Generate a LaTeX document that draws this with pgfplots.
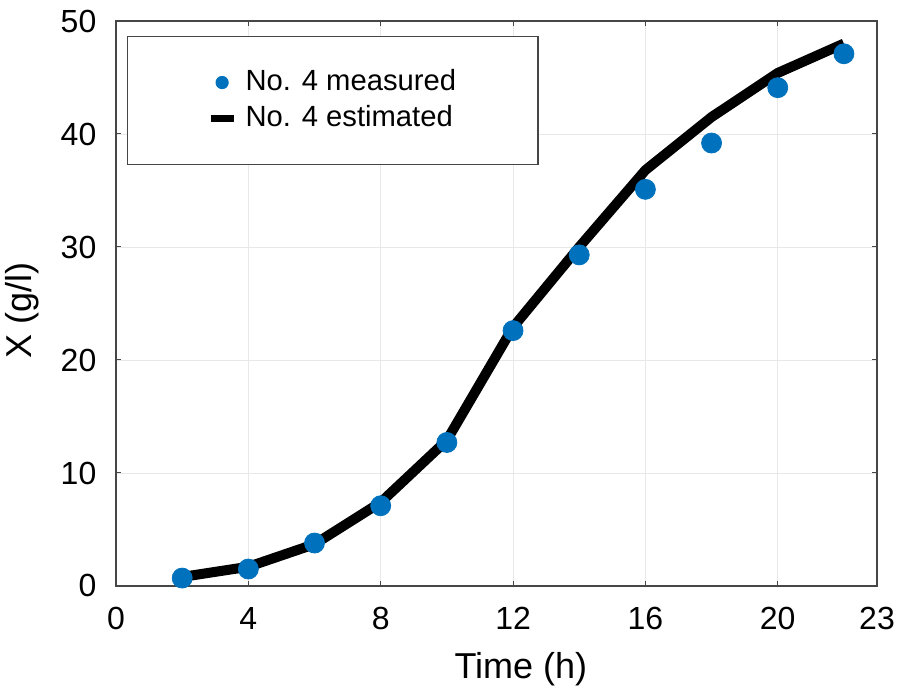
\documentclass[border=0pt]{standalone}
\usepackage{fontspec}
\setmainfont{Liberation Sans}
\usepackage{pgfplots}
\pgfplotsset{compat=1.18}
\definecolor{mblue}{RGB}{0,114,189}
\definecolor{axgray}{RGB}{70,70,70}

\begin{document}
\fontsize{16}{19}\selectfont
\begin{tikzpicture}
\begin{axis}[
  scale only axis,
  width=380.5pt, height=282.5pt,
  xmin=0, xmax=23, ymin=0, ymax=50,
  xtick={0,4,8,12,16,20,23},
  ytick={0,10,20,30,40,50},
  xmajorgrids, ymajorgrids,
  grid style={gray!18, line width=0.4pt},
  axis line style={axgray, line width=0.6pt},
  major tick style={axgray, line width=0.5pt},
  major tick length=2.5pt,
  tick align=inside,
  /pgf/number format/assume math mode=true,
  ticklabel style={font=\fontsize{16}{19}\selectfont},
  xticklabel style={yshift=-5.3pt},
  yticklabel style={xshift=-4.3pt},
  xlabel={Time (h)}, ylabel={X (g/l)},
  label style={font=\fontsize{18}{21}\selectfont},
  xlabel style={at={(axis description cs:0.532,-0.147)}, anchor=center},
  ylabel style={at={(axis description cs:-0.1235,0.488)}, anchor=center},
  legend cell align=left,
  legend style={at={(0.0145,0.9735)}, anchor=north west,
    draw=axgray, line width=0.6pt, inner xsep=39pt, inner ysep=14.5pt,
    font=\fontsize{14.6}{17}\selectfont, row sep=1pt},
]
\addplot[only marks, mark=*, mark size=5pt, color=mblue,
  legend image code/.code={\path (0,0) (13pt,0); \fill[mblue] (5.75pt,0) circle (3pt);}]
  coordinates {(2,0.7) (4,1.5) (6,3.8) (8,7.1) (10,12.7) (12,22.6)
  (14,29.3) (16,35.1) (18,39.2) (20,44.1) (22,47.1)};
\addlegendentry{No. 4 measured}
\addplot[black, line width=5pt,
  legend image code/.code={\path (0,0) (13pt,0); \draw[black, line width=3.5pt] (0,0) -- (11.5pt,0);}]
  coordinates {(2,0.8) (4,1.7) (6,3.7) (8,7.4) (10,12.9) (12,22.9)
  (14,30.0) (16,36.8) (18,41.5) (20,45.4) (22,48.0)};
\addlegendentry{No. 4 estimated}
\end{axis}
\pgfresetboundingbox
\path ([shift={(-58pt,-52.5pt)}]current axis.south west) rectangle ([shift={(10.5pt,10.5pt)}]current axis.north east);
\end{tikzpicture}
\end{document}
